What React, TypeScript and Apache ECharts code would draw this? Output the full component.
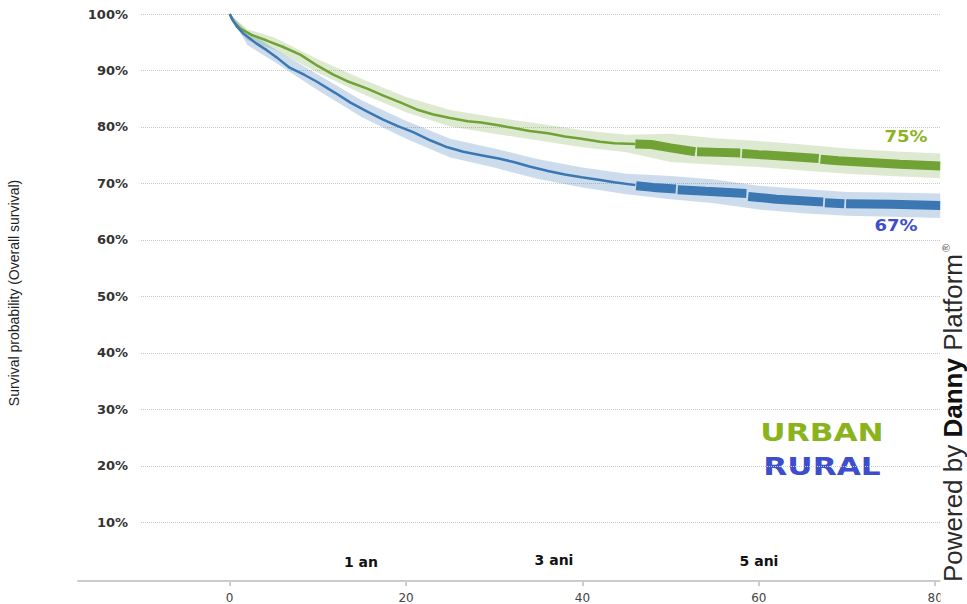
import React, { useEffect, useRef } from "react";
import * as echarts from "echarts";

// ---- data (x in months, y in %) ----
const xTicks = [0, 20, 40, 60, 80];
const yTicks = [10, 20, 30, 40, 50, 60, 70, 80, 90, 100];

const urbanX = [0, 0.5, 1.2, 2.5, 4.2, 6, 8, 10, 11.7, 13.5, 15.6, 17.5, 19.4, 21.2, 23.1, 25, 27, 28.5, 30.8, 32.2, 34, 36.1, 38, 39.9, 42, 43.6, 46];
const urbanY = [100, 98.6, 97.4, 96.3, 95.3, 94.2, 92.8, 90.8, 89.3, 88.0, 86.8, 85.5, 84.3, 83.1, 82.2, 81.6, 81.0, 80.8, 80.2, 79.8, 79.3, 78.9, 78.3, 77.9, 77.4, 77.1, 77.0];
const urbanDenseX = [46, 47.8, 50, 52.8, 52.9, 53.0, 55.5, 57.9, 58.0, 58.1, 60, 63, 66.8, 66.9, 67.0, 69, 72.5, 76, 80.6];
const urbanDenseY = [77.0, 76.9, 76.3, 75.6, null, 75.6, 75.5, 75.4, null, 75.3, 75.1, 74.8, 74.4, null, 74.3, 74.0, 73.7, 73.4, 73.1];
const urbanBandX = [0, 2, 5, 10, 15, 20, 25, 30, 35, 40, 45, 50, 55, 60, 65, 70, 75, 80.6];
const urbanLow = [100, 95.3, 93.7, 89.6, 85.9, 82.6, 80.1, 78.8, 77.6, 76.4, 75.5, 73.8, 73.3, 72.9, 72.3, 71.7, 71.3, 70.9];
const urbanHigh = [100, 97.3, 95.9, 92.0, 88.5, 85.3, 83.0, 81.7, 80.6, 79.4, 78.6, 78.8, 78.0, 77.5, 76.9, 76.2, 75.7, 75.3];

const ruralX = [0, 0.3, 0.8, 1.5, 3, 4.2, 5.5, 6.8, 8.5, 9.9, 12, 13.7, 15.5, 17.4, 19, 20.8, 22.8, 24.7, 26.5, 28.5, 30.5, 32.2, 34, 36.1, 38, 39.9, 42, 43.6, 46];
const ruralY = [100, 99.0, 97.8, 96.6, 94.8, 93.6, 92.1, 90.5, 89.2, 88.0, 86.0, 84.3, 82.8, 81.3, 80.2, 79.1, 77.6, 76.4, 75.6, 75.0, 74.4, 73.8, 73.0, 72.2, 71.6, 71.1, 70.6, 70.2, 69.7];
const ruralDenseX = [45.9, 46.0, 46.1, 48, 50.6, 50.7, 50.8, 54, 58.6, 58.7, 58.8, 62, 67.3, 67.4, 67.5, 69.7, 69.8, 69.9, 75, 80.6];
const ruralDenseY = [69.7, null, 69.6, 69.3, 69.0, null, 68.9, 68.6, 68.2, null, 67.7, 67.2, 66.7, null, 66.6, 66.4, null, 66.4, 66.3, 66.1];
const ruralBandX = [0, 2, 5, 10, 15, 20, 25, 30, 35, 40, 45, 50, 55, 60, 65, 70, 75, 80.6];
const ruralLow = [100, 94.5, 91.6, 86.5, 81.7, 77.9, 74.6, 72.8, 70.8, 69.3, 68.1, 67.2, 66.5, 65.4, 64.7, 64.3, 64.1, 63.9];
const ruralHigh = [100, 96.9, 93.9, 89.3, 84.7, 81.1, 77.9, 76.2, 74.3, 72.8, 71.7, 71.3, 70.7, 69.6, 69.0, 68.5, 68.4, 68.2];

const milestones = [
  { text: "1 an", x: 361, y: 562 },
  { text: "3 ani", x: 554, y: 560 },
  { text: "5 ani", x: 759, y: 561 },
];

const zip = (xs: number[], ys: (number | null)[]) => xs.map((x, i) => [x, ys[i]]);

const GREEN = "#70a236";
const BLUE = "#3a77b3";

export default function App() {
  const ref = useRef<HTMLDivElement>(null);
  useEffect(() => {
    if (!ref.current) return;
    const chart = echarts.init(ref.current, undefined, { renderer: "svg" });
    const bandSeries = (name: string, xs: number[], lo: number[], hi: number[], color: string) => ({
      name,
      type: "custom",
      xAxisIndex: 0,
      yAxisIndex: 0,
      data: xs.map((x, i) => [x, lo[i], hi[i]]),
      encode: { x: 0, y: [1, 2] },
      z: 1,
      renderItem: (params: any, api: any) => {
        if (params.dataIndex !== 0) return null;
        const upper = xs.map((x, i) => api.coord([x, hi[i]]));
        const lower = xs.map((x, i) => api.coord([x, lo[i]])).reverse();
        return {
          type: "polygon",
          shape: { points: upper.concat(lower) },
          style: { fill: color },
          silent: true,
        };
      },
    });
    const option: any = {
      animation: false,
      backgroundColor: "#fff",
      grid: [
        { left: 78, right: 27, top: 10, bottom: 23 },
        { left: 141, right: 27, top: 14, bottom: 25.2 },
      ],
      xAxis: [
        {
          gridIndex: 0,
          type: "value",
          min: -17.2,
          max: 80.55,
          axisLine: { onZero: false, lineStyle: { color: "#cccccc", width: 2 } },
          axisTick: { customValues: xTicks, length: 5, lineStyle: { color: "#cccccc", width: 2 } },
          axisLabel: {
            customValues: xTicks,
            color: "#444",
            fontSize: 12,
            fontFamily: "DejaVu Sans",
            margin: 11,
          },
          splitLine: { show: false },
        },
        { gridIndex: 1, type: "value", min: 0, max: 1, show: false },
      ],
      yAxis: [
        { gridIndex: 0, type: "value", min: -0.39, max: 100.708, show: false },
        {
          gridIndex: 1,
          type: "value",
          min: 0,
          max: 100,
          interval: 10,
          axisLine: { show: false },
          axisTick: { show: false },
          axisLabel: {
            customValues: yTicks,
            formatter: (v: number) => v + "%",
            color: "#333",
            fontSize: 13,
            fontWeight: "bold",
            fontFamily: "DejaVu Sans",
            margin: 13,
          },
          splitLine: {
            show: true,
            showMinLine: false,
            lineStyle: { color: "#c8c8c8", type: "dotted", width: 1 },
          },
        },
      ],
      series: [
        bandSeries("URBAN CI", urbanBandX, urbanLow, urbanHigh, "rgba(120,170,70,0.25)"),
        bandSeries("RURAL CI", ruralBandX, ruralLow, ruralHigh, "rgba(70,125,185,0.27)"),
        {
          name: "URBAN",
          type: "line",
          symbol: "none",
          lineStyle: { color: GREEN, width: 2.5 },
          data: zip(urbanX, urbanY),
          z: 3,
        },
        {
          name: "URBAN dense",
          type: "line",
          symbol: "none",
          lineStyle: { color: GREEN, width: 9, cap: "butt" },
          data: zip(urbanDenseX, urbanDenseY),
          z: 3,
        },
        {
          name: "RURAL",
          type: "line",
          symbol: "none",
          lineStyle: { color: BLUE, width: 2.5 },
          data: zip(ruralX, ruralY),
          z: 3,
        },
        {
          name: "RURAL dense",
          type: "line",
          symbol: "none",
          lineStyle: { color: BLUE, width: 9, cap: "butt" },
          data: zip(ruralDenseX, ruralDenseY),
          z: 3,
        },
      ],
      graphic: [
        {
          type: "text",
          x: 14,
          y: 293,
          rotation: Math.PI / 2,
          style: {
            text: "Survival probability (Overall survival)",
            fontSize: 14,
            fontFamily: '"Liberation Sans Narrow", "Liberation Sans", sans-serif',
            fill: "#222",
            align: "center",
            verticalAlign: "middle",
          },
        },
        ...milestones.map((m) => ({
          type: "text",
          x: m.x,
          y: m.y,
          style: {
            text: m.text,
            fontSize: 14,
            fontWeight: "bold",
            fontFamily: "DejaVu Sans",
            fill: "#111",
            align: "center",
            verticalAlign: "middle",
          },
        })),
        {
          type: "text",
          x: 906,
          y: 137.5,
          scaleX: 1.2,
          style: {
            text: "75%",
            fontSize: 15,
            fontWeight: "bold",
            fontFamily: "DejaVu Sans",
            fill: "#8db31f",
            align: "center",
            verticalAlign: "middle",
          },
        },
        {
          type: "text",
          x: 896,
          y: 226,
          scaleX: 1.2,
          style: {
            text: "67%",
            fontSize: 15,
            fontWeight: "bold",
            fontFamily: "DejaVu Sans",
            fill: "#3f4dcc",
            align: "center",
            verticalAlign: "middle",
          },
        },
        {
          type: "text",
          x: 822,
          y: 433,
          scaleX: 1.3,
          style: {
            text: "URBAN",
            fontSize: 24,
            fontWeight: "bold",
            fontFamily: "DejaVu Sans",
            fill: "#8bb41c",
            align: "center",
            verticalAlign: "middle",
          },
        },
        {
          type: "text",
          x: 822,
          y: 467,
          scaleX: 1.3,
          style: {
            text: "RURAL",
            fontSize: 24,
            fontWeight: "bold",
            fontFamily: "DejaVu Sans",
            fill: "#3d4dcc",
            align: "center",
            verticalAlign: "middle",
          },
        },
        {
          type: "rect",
          shape: { x: 940.5, y: 0, width: 30, height: 604 },
          style: { fill: "#ffffff" },
          z: 100,
        },
        {
          type: "text",
          x: 953,
          y: 413,
          rotation: Math.PI / 2,
          z: 101,
          style: {
            text: "Powered by {b|Danny} Platform{r|®}",
            fontSize: 26,
            fontFamily: '"Liberation Sans", Arial, sans-serif',
            fill: "#2a2a2a",
            align: "center",
            verticalAlign: "middle",
            rich: {
              b: { fontSize: 26, fontWeight: "bold", fontFamily: '"Liberation Sans", Arial, sans-serif', fill: "#111" },
              r: { fontSize: 11, fontFamily: '"Liberation Sans", Arial, sans-serif', fill: "#666", padding: [0, 0, 14, 2] },
            },
          },
        },
      ],
    };
    chart.setOption(option);
    return () => chart.dispose();
  }, []);
  return <div ref={ref} style={{ width: 967, height: 604, position: "absolute", left: 0, top: 0 }} />;
}
